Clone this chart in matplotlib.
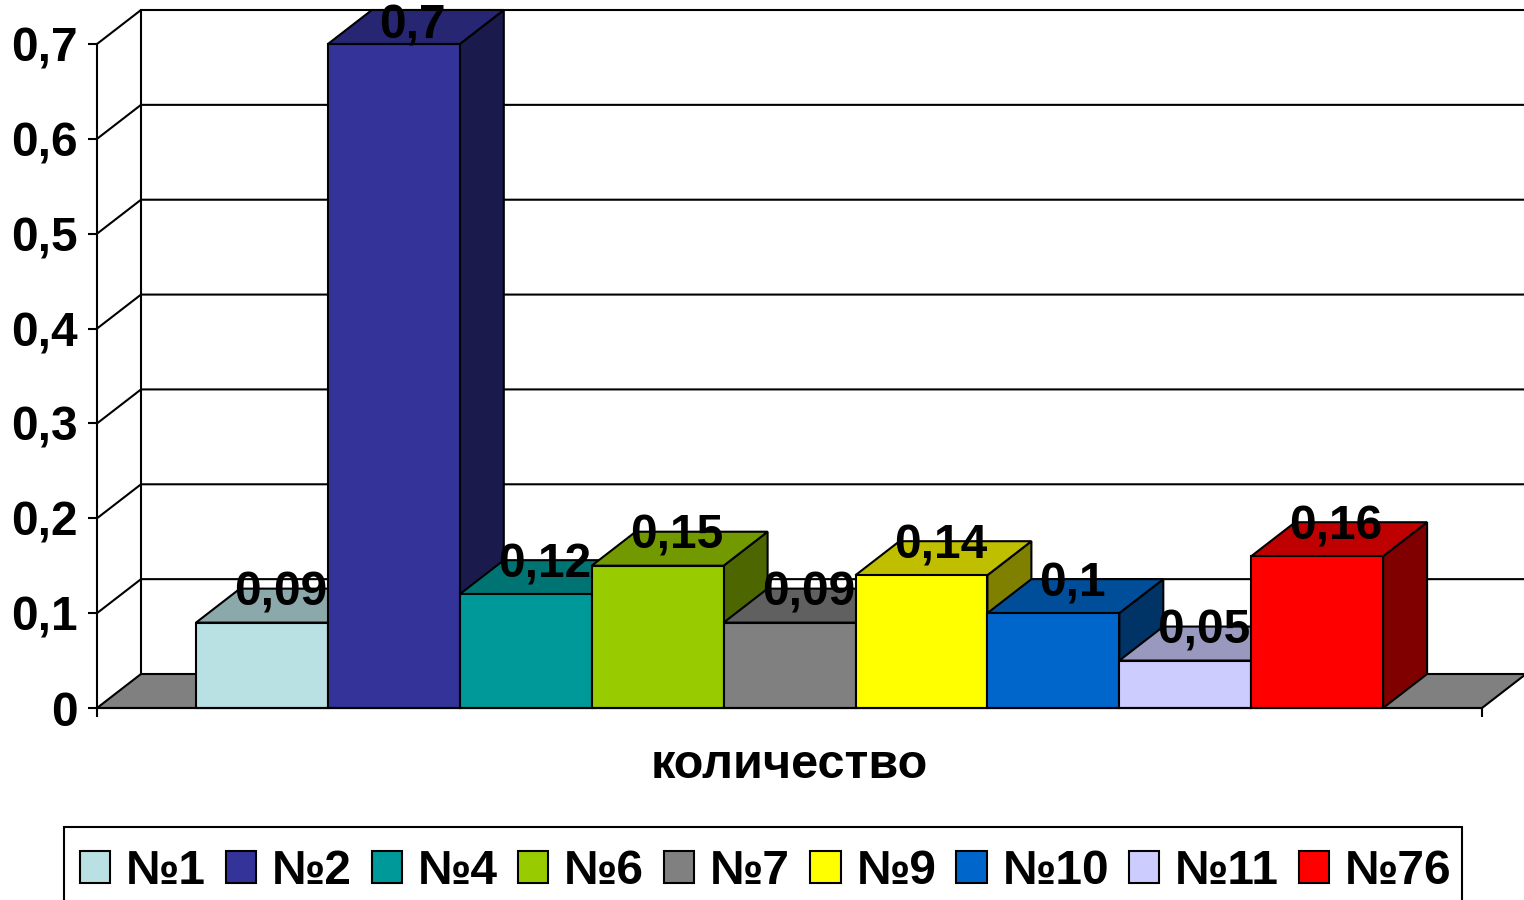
import matplotlib
matplotlib.use("Agg")
import matplotlib.pyplot as plt
from matplotlib.colors import to_rgb
from matplotlib.patches import Rectangle

plt.rcParams['font.family'] = ['Liberation Sans', 'DejaVu Sans']
plt.rcParams['font.weight'] = 'bold'
plt.rcParams['font.size'] = 34.5

names = ['№1', '№2', '№4', '№6', '№7', '№9', '№10', '№11', '№76']
values = [0.09, 0.7, 0.12, 0.15, 0.09, 0.14, 0.1, 0.05, 0.16]
colors = ['#B9E0E3', '#333399', '#009999', '#99CC00', '#808080',
          '#FFFF00', '#0066CC', '#CCCCFF', '#FF0000']
y_ticks = [0, 0.1, 0.2, 0.3, 0.4, 0.5, 0.6, 0.7]

W, H = 1524, 900
LW = 1.5
# depth of the fake 3d box, in data units
DX = 44 / 131.9
DY = 34 / 948.6


def shade(color, k):
    return tuple(c * k for c in to_rgb(color))


def comma(v):
    return f"{v:g}".replace('.', ',')


fig = plt.figure(figsize=(W / 100, H / 100), dpi=100)
ax = fig.add_axes([97 / W, 1 - 708 / H, (1482 - 97) / W, (708 - 44) / H])
ax.patch.set_visible(False)
x_min, x_max = -99 / 131.9, 1286 / 131.9
ax.set_xlim(x_min, x_max)
ax.set_ylim(0, 0.7)

# floor
ax.fill([x_min, x_min + DX, x_max + DX, x_max], [0, DY, DY, 0],
        facecolor='#808080', edgecolor='black', lw=LW, clip_on=False, zorder=1)

# back wall and grid
ax.plot([x_min + DX, x_min + DX], [DY, 0.7 + DY], color='black', lw=LW, clip_on=False, zorder=1)
for t in y_ticks[1:]:
    ax.plot([x_min, x_min + DX, x_max + DX], [t, t + DY, t + DY],
            color='black', lw=LW, clip_on=False, zorder=1)

# bars, left to right so each one covers the side of the one before
for i, (name, v, c) in enumerate(zip(names, values, colors)):
    z = 3 + i
    ax.fill([i + 1, i + 1 + DX, i + 1 + DX, i + 1], [0, DY, v + DY, v],
            facecolor=shade(c, 0.5), edgecolor='black', lw=LW, clip_on=False, zorder=z)
    ax.fill([i, i + DX, i + 1 + DX, i + 1], [v, v + DY, v + DY, v],
            facecolor=shade(c, 0.75), edgecolor='black', lw=LW, clip_on=False, zorder=z)
    ax.bar(i, v, width=1, align='edge', color=c, edgecolor='black', lw=LW,
           label=name, clip_on=False, zorder=z)

# value labels
for i, v in enumerate(values):
    ax.text(i + 0.5 + DX / 2 - 0.023, min(v + 0.018, 0.706), comma(v), ha='center', va='baseline',
            color='black', zorder=30, clip_on=False)

ax.set_yticks(y_ticks)
ax.set_yticklabels([comma(t) for t in y_ticks])
ax.set_xticks([x_min, x_max])
ax.set_xticklabels([])
ax.tick_params(axis='both', length=6.5, width=LW, color='black', pad=7.5)
for side in ['top', 'right']:
    ax.spines[side].set_visible(False)
for side in ['left', 'bottom']:
    ax.spines[side].set_linewidth(LW)
    ax.spines[side].set_zorder(20)

fig.text(789 / W, 1 - 778 / H, 'количество', ha='center', va='baseline', fontsize=35)

# legend frame runs off the bottom of the picture
fig.add_artist(Rectangle((64 / W, -0.02), (1462 - 64) / W, 1 - 827 / H + 0.02, transform=fig.transFigure,
                         facecolor='white', edgecolor='black', lw=LW))
leg = fig.legend(loc='upper left', bbox_to_anchor=(64 / W, 1 - 833 / H), ncol=len(names),
                 frameon=False, handlelength=0.63, handleheight=0.63, handletextpad=0.33,
                 columnspacing=0.42, borderpad=0.33, borderaxespad=0)

fig.savefig('out.png', dpi=100)
